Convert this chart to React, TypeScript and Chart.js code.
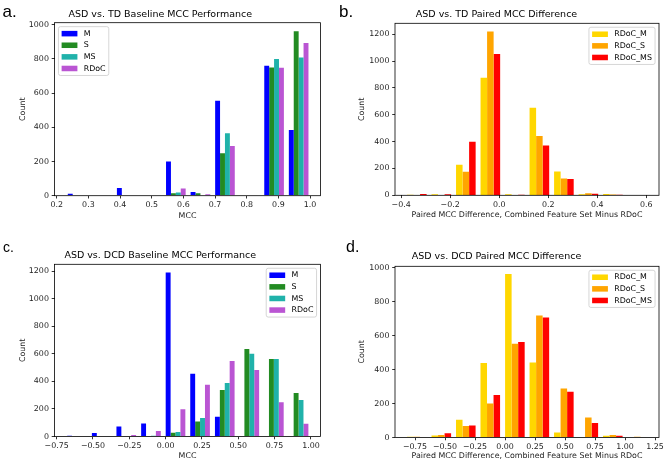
import React, { useEffect, useRef } from "react";
import { Chart, registerables } from "chart.js";

Chart.register(...registerables);

// ---------------- Panel a: ASD vs. TD Baseline MCC Performance ----------------
const A_BINS = [0.266, 0.3436, 0.4211, 0.4987, 0.5762, 0.6538, 0.7313, 0.8089, 0.8864, 0.964];
const A_M = [12, 0, 45, 3, 200, 22, 555, 0, 760, 385];
const A_S = [0, 0, 0, 0, 15, 15, 248, 0, 750, 962];
const A_MS = [0, 0, 0, 0, 18, 0, 365, 0, 800, 808];
const A_RDOC = [0, 0, 3, 0, 42, 8, 290, 0, 748, 893];
const A_XTICKS = [0.2, 0.3, 0.4, 0.5, 0.6, 0.7, 0.8, 0.9, 1.0];
const A_XTICK_LABELS = ["0.2", "0.3", "0.4", "0.5", "0.6", "0.7", "0.8", "0.9", "1.0"];
const A_YTICKS = [0, 200, 400, 600, 800, 1000];

// ---------------- Panel b: ASD vs. TD Paired MCC Difference ----------------
const B_BINS = [-0.336, -0.236, -0.136, -0.036, 0.064, 0.164, 0.264, 0.364, 0.464, 0.564];
const B_RDOC_M = [5, 8, 228, 875, 8, 652, 178, 8, 10, 0];
const B_RDOC_S = [0, 0, 175, 1220, 0, 442, 125, 15, 6, 0];
const B_RDOC_MS = [10, 8, 398, 1052, 4, 370, 122, 12, 5, 0];
const B_XTICKS = [-0.4, -0.2, 0.0, 0.2, 0.4, 0.6];
const B_XTICK_LABELS = ["\u22120.4", "\u22120.2", "0.0", "0.2", "0.4", "0.6"];
const B_YTICKS = [0, 200, 400, 600, 800, 1000, 1200];

// ---------------- Panel c: ASD vs. DCD Baseline MCC Performance ----------------
const C_BINS = [-0.61, -0.44, -0.271, -0.101, 0.068, 0.237, 0.407, 0.576, 0.745, 0.915];
const C_M = [5, 25, 72, 95, 1190, 455, 143, 3, 0, 0];
const C_S = [0, 0, 0, 3, 28, 108, 338, 635, 562, 315];
const C_MS = [0, 0, 0, 5, 32, 135, 388, 600, 562, 265];
const C_RDOC = [0, 0, 10, 40, 198, 375, 548, 482, 248, 92];
const C_XTICKS = [-0.75, -0.5, -0.25, 0.0, 0.25, 0.5, 0.75, 1.0];
const C_XTICK_LABELS = ["\u22120.75", "\u22120.50", "\u22120.25", "0.00", "0.25", "0.50", "0.75", "1.00"];
const C_YTICKS = [0, 200, 400, 600, 800, 1000, 1200];

// ---------------- Panel d: ASD vs. DCD Paired MCC Difference ----------------
const D_BINS = [-0.735, -0.531, -0.327, -0.123, 0.082, 0.286, 0.49, 0.694, 0.898, 1.102];
const D_RDOC_M = [5, 12, 105, 438, 962, 442, 30, 0, 10, 0];
const D_RDOC_S = [5, 15, 68, 200, 552, 718, 288, 118, 15, 4];
const D_RDOC_MS = [3, 25, 70, 250, 562, 706, 270, 85, 10, 0];
const D_XTICKS = [-0.75, -0.5, -0.25, 0.0, 0.25, 0.5, 0.75, 1.0, 1.25];
const D_XTICK_LABELS = ["\u22120.75", "\u22120.50", "\u22120.25", "0.00", "0.25", "0.50", "0.75", "1.00", "1.25"];
const D_YTICKS = [0, 200, 400, 600, 800, 1000];

// ---------------- styling / layout ----------------
const FONT = "'DejaVu Sans', sans-serif";
const FS = 7.9;
const W = 334;
const H = 232;

type Series = { label: string; color: string; values: number[] };
type Panel = {
  letter: string;
  letterSize: number;
  letterX: number;
  letterY: number;
  title: string;
  xTitle: string;
  bins: number[];
  series: Series[];
  xMin: number;
  xMax: number;
  xTicks: number[];
  xTickLabels: string[];
  yMax: number;
  yTicks: number[];
  area: { left: number; right: number; top: number; bottom: number };
  titleY: number;
  xTitleY: number;
  yTitleX: number;
  legendCorner: "left" | "right";
  x: number;
  y: number;
};

const PANELS: Panel[] = [
  {
    letter: "a.", letterSize: 17, letterX: 2.5, letterY: 16.5,
    title: "ASD vs. TD Baseline MCC Performance", xTitle: "MCC",
    bins: A_BINS,
    series: [
      { label: "M", color: "#0000ff", values: A_M },
      { label: "S", color: "#228b22", values: A_S },
      { label: "MS", color: "#20b2aa", values: A_MS },
      { label: "RDoC", color: "#ba55d3", values: A_RDOC },
    ],
    xMin: 0.193, xMax: 1.033, xTicks: A_XTICKS, xTickLabels: A_XTICK_LABELS,
    yMax: 1012, yTicks: A_YTICKS,
    area: { left: 54.5, right: 320.5, top: 22.7, bottom: 195.7 },
    titleY: 15, xTitleY: 215.7, yTitleX: 23.3, legendCorner: "left",
    x: 0, y: 0,
  },
  {
    letter: "b.", letterSize: 17, letterX: 5, letterY: 16.5,
    title: "ASD vs. TD Paired MCC Difference", xTitle: "Paired MCC Difference, Combined Feature Set Minus RDoC",
    bins: B_BINS,
    series: [
      { label: "RDoC_M", color: "#ffd700", values: B_RDOC_M },
      { label: "RDoC_S", color: "#ffa500", values: B_RDOC_S },
      { label: "RDoC_MS", color: "#ff0000", values: B_RDOC_MS },
    ],
    xMin: -0.425, xMax: 0.652, xTicks: B_XTICKS, xTickLabels: B_XTICK_LABELS,
    yMax: 1281, yTicks: B_YTICKS,
    area: { left: 61, right: 325, top: 23.3, bottom: 195.3 },
    titleY: 15, xTitleY: 215, yTitleX: 28.3, legendCorner: "right",
    x: 334, y: 0,
  },
  {
    letter: "c.", letterSize: 14, letterX: 3, letterY: 20,
    title: "ASD vs. DCD Baseline MCC Performance", xTitle: "MCC",
    bins: C_BINS,
    series: [
      { label: "M", color: "#0000ff", values: C_M },
      { label: "S", color: "#228b22", values: C_S },
      { label: "MS", color: "#20b2aa", values: C_MS },
      { label: "RDoC", color: "#ba55d3", values: C_RDOC },
    ],
    xMin: -0.765, xMax: 1.066, xTicks: C_XTICKS, xTickLabels: C_XTICK_LABELS,
    yMax: 1250, yTicks: C_YTICKS,
    area: { left: 54.5, right: 320.5, top: 32.3, bottom: 204.5 },
    titleY: 24, xTitleY: 224, yTitleX: 23.3, legendCorner: "right",
    x: 0, y: 232,
  },
  {
    letter: "d.", letterSize: 16, letterX: 12, letterY: 20,
    title: "ASD vs. DCD Paired MCC Difference", xTitle: "Paired MCC Difference, Combined Feature Set Minus RDoC",
    bins: D_BINS,
    series: [
      { label: "RDoC_M", color: "#ffd700", values: D_RDOC_M },
      { label: "RDoC_S", color: "#ffa500", values: D_RDOC_S },
      { label: "RDoC_MS", color: "#ff0000", values: D_RDOC_MS },
    ],
    xMin: -0.917, xMax: 1.283, xTicks: D_XTICKS, xTickLabels: D_XTICK_LABELS,
    yMax: 1008, yTicks: D_YTICKS,
    area: { left: 61, right: 325, top: 34.3, bottom: 205.5 },
    titleY: 25, xTitleY: 224, yTitleX: 28.3, legendCorner: "right",
    x: 334, y: 232,
  },
];

const decorPlugin = {
  id: "decor",
  afterDatasetsDraw(chart: any, _args: any, opts: any) {
    const { ctx, chartArea: a } = chart;
    ctx.save();
    // frame (all four spines)
    ctx.strokeStyle = "#000";
    ctx.lineWidth = 0.8;
    ctx.strokeRect(a.left, a.top, a.right - a.left, a.bottom - a.top);

    // legend box
    const ds = chart.data.datasets;
    ctx.font = `${FS}px ${FONT}`;
    const textW = Math.max(...ds.map((d: any) => ctx.measureText(d.label).width));
    const pad = 0.4 * FS, hl = 2 * FS, hp = 0.8 * FS, rowH = FS * 0.97, sp = 0.5 * FS;
    const w = pad * 2 + hl + hp + textW;
    const h = pad * 2 + ds.length * rowH + (ds.length - 1) * sp;
    const off = 0.5 * FS;
    const x0 = opts.corner === "right" ? a.right - off - w : a.left + off;
    const y0 = a.top + off;
    ctx.beginPath();
    if ((ctx as any).roundRect) (ctx as any).roundRect(x0, y0, w, h, 2);
    else ctx.rect(x0, y0, w, h);
    ctx.fillStyle = "rgba(255,255,255,0.8)";
    ctx.fill();
    ctx.strokeStyle = "#cccccc";
    ctx.lineWidth = 0.8;
    ctx.stroke();
    ds.forEach((d: any, i: number) => {
      const cy = y0 + pad + i * (rowH + sp) + rowH / 2;
      ctx.fillStyle = d.backgroundColor;
      ctx.fillRect(x0 + pad, cy - 0.35 * FS, hl, 0.7 * FS);
      ctx.fillStyle = "#000";
      ctx.textBaseline = "middle";
      ctx.textAlign = "left";
      ctx.fillText(d.label, x0 + pad + hl + hp, cy);
    });

    // panel letter
    ctx.font = `${opts.letterSize}px 'Liberation Sans', Arial, sans-serif`;
    ctx.fillStyle = "#000";
    ctx.textBaseline = "alphabetic";
    ctx.textAlign = "left";
    ctx.fillText(opts.letter, opts.letterX, opts.letterY);
    ctx.restore();
  },
};

function PanelChart({ p }: { p: Panel }) {
  const ref = useRef<HTMLCanvasElement>(null);
  useEffect(() => {
    if (!ref.current) return;
    const lh = FS * 1.2;
    const titleLH = 9.5 * 1.2;
    const chart = new Chart(ref.current, {
      type: "bar",
      data: {
        datasets: p.series.map((s) => ({
          label: s.label,
          data: p.bins.map((b, i) => ({ x: b, y: s.values[i] })),
          backgroundColor: s.color,
          borderWidth: 0,
          categoryPercentage: 0.8,
          barPercentage: 1.0,
        })),
      },
      options: {
        responsive: false,
        animation: false,
        devicePixelRatio: 1,
        layout: { padding: { left: 0, top: 0, right: W - p.area.right, bottom: 0 } },
        plugins: {
          legend: { display: false },
          tooltip: { enabled: false },
          title: {
            display: true,
            text: p.title,
            color: "#000",
            font: { family: FONT, size: 9.5, weight: "normal" },
            padding: { top: p.titleY - titleLH / 2, bottom: p.area.top - p.titleY - titleLH / 2 },
          },
          decor: {
            corner: p.legendCorner,
            letter: p.letter,
            letterSize: p.letterSize,
            letterX: p.letterX,
            letterY: p.letterY,
          },
        } as any,
        scales: {
          x: {
            type: "linear",
            min: p.xMin,
            max: p.xMax,
            offset: false,
            grid: {
              display: true,
              drawOnChartArea: false,
              drawTicks: true,
              tickLength: 2.8,
              color: "#000",
              lineWidth: 0.8,
              offset: false,
            },
            border: { display: false },
            ticks: {
              autoSkip: false,
              maxRotation: 0,
              padding: 2,
              color: "#222",
              font: { family: FONT, size: FS },
              callback: (v: any) => {
                const i = p.xTicks.indexOf(v);
                return i >= 0 ? p.xTickLabels[i] : "";
              },
            },
            afterBuildTicks: (s: any) => {
              s.ticks = p.xTicks.map((v) => ({ value: v }));
            },
            afterFit: (s: any) => {
              s.height = H - p.area.bottom;
            },
            title: {
              display: true,
              text: p.xTitle,
              color: "#222",
              font: { family: FONT, size: FS },
              padding: { top: 0, bottom: H - p.xTitleY - lh / 2 },
            },
          },
          y: {
            type: "linear",
            min: 0,
            max: p.yMax,
            grid: {
              display: true,
              drawOnChartArea: false,
              drawTicks: true,
              tickLength: 2.8,
              color: "#000",
              lineWidth: 0.8,
            },
            border: { display: false },
            ticks: {
              padding: 2.8,
              color: "#222",
              font: { family: FONT, size: FS },
              callback: (v: any) => String(v),
            },
            afterBuildTicks: (s: any) => {
              s.ticks = p.yTicks.map((v) => ({ value: v }));
            },
            afterFit: (s: any) => {
              s.width = p.area.left;
            },
            title: {
              display: true,
              text: "Count",
              color: "#222",
              font: { family: FONT, size: FS },
              padding: { top: p.yTitleX - lh / 2, bottom: 0 },
            },
          },
        },
      } as any,
      plugins: [decorPlugin],
    });
    return () => chart.destroy();
  }, [p]);
  return (
    <canvas
      ref={ref}
      width={W}
      height={H}
      style={{ position: "absolute", left: p.x, top: p.y, width: W, height: H, display: "block" }}
    />
  );
}

export default function App() {
  return (
    <div style={{ position: "absolute", left: 0, top: 0, width: 668, height: 464, background: "#fff", overflow: "hidden" }}>
      {PANELS.map((p) => (
        <PanelChart key={p.letter} p={p} />
      ))}
    </div>
  );
}
